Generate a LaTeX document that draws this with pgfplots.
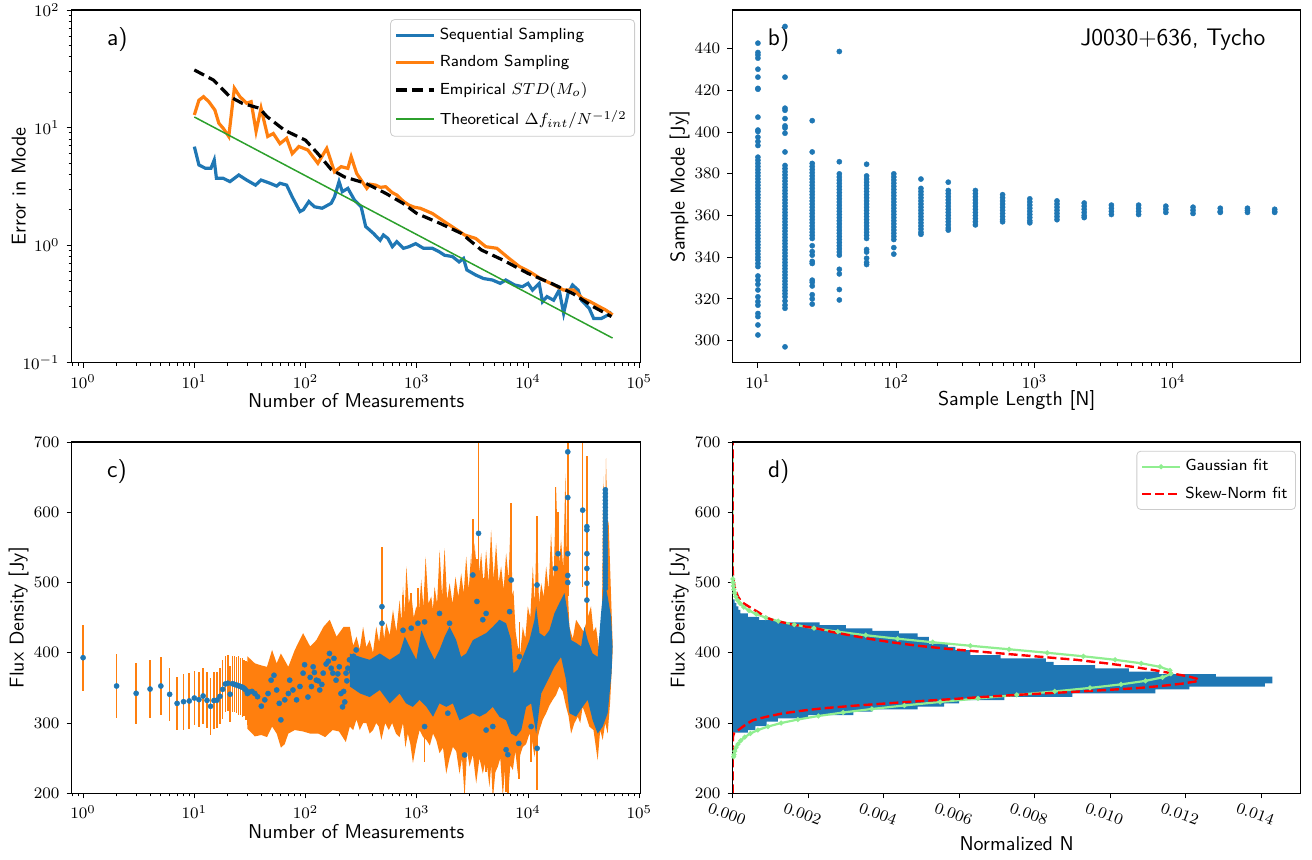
\documentclass[border=0pt]{standalone}
\usepackage{fontspec}
\usepackage{pgfplots}
\pgfplotsset{compat=1.18}

\definecolor{cBlue}{RGB}{31,119,180}
\definecolor{cOrange}{RGB}{255,127,14}
\definecolor{cGreen}{RGB}{44,160,44}
\definecolor{cLight}{RGB}{144,238,144}

\tikzset{tag/.style={font=\sffamily\fontsize{12}{14}\selectfont, anchor=base west}}
\pgfplotsset{
  panel/.style={
    scale only axis, width=284.5pt, axis on top,
    tick pos=left, tick align=outside,
    major tick length=2.6pt, minor tick length=1.5pt,
    every tick/.style={black, line width=0.45pt},
    axis line style={line width=0.55pt},
    tick label style={font=\fontsize{8.5}{10}\selectfont},
    label style={font=\sffamily\fontsize{10}{12}\selectfont},
    ylabel style={at={([xshift=-26.5pt]rel axis cs:0,0.5)}, anchor=center},
    xlabel style={at={([yshift=-19pt]rel axis cs:0.5,0)}, anchor=center},
    legend cell align=left,
    legend style={font=\sffamily\fontsize{8}{9.5}\selectfont, draw=black!20,
      rounded corners=2pt, fill=white, fill opacity=0.8, text opacity=1,
      draw opacity=1, anchor=north east, inner xsep=2pt, inner ysep=2.2pt,
      row sep=2.4pt},
    legend image code/.code={\draw[mark repeat=2,mark phase=2,##1]
      plot coordinates {(0pt,0pt) (9.5pt,0pt) (19pt,0pt)};},
  },
  dots/.style={only marks, mark=*, mark size=1.3pt,
    mark options={fill=cBlue, draw=cBlue, line width=0.2pt}},
  ebar/.style={only marks, mark=*, mark size=0pt,
    mark options={draw=none, fill=none}, forget plot,
    error bars/.cd, y dir=both, y explicit, error mark=none,
    error bar style={draw=cOrange, line width=0.75pt, solid}},
}

\begin{document}
\begin{tikzpicture}
\path[use as bounding box] (0,0) rectangle (656pt,-430pt);

% ---------------- a) error in mode
\begin{axis}[panel, at={(35.85pt,-5pt)}, anchor=north west, height=176.35pt,
  xmode=log, ymode=log, xmin=0.79, xmax=1.03e5, ymin=0.1, ymax=100,
  xlabel={Number of Measurements}, ylabel={Error in Mode},
  legend style={at={(0.99,0.974)}}]
\addplot[cBlue, line width=1.6pt] coordinates {(10,6.88) (11,4.81) (12.6,4.5) (14.1,4.5) (15.1,5.3) (15.8,3.7) (18.2,3.7) (20.9,3.47) (25.1,3.95) (29.5,3.58) (35.5,3.24) (39.8,3.58) (47.9,3.36) (55,3.18) (58.9,3.36) (67.6,3.24) (75.9,2.57) (89.1,1.93) (95.5,2.0) (107,2.35) (120,2.12) (141,2.06) (170,2.27) (182,2.57) (200,3.47) (214,2.85) (240,3.04) (275,2.42) (316,2.12) (347,1.44) (407,1.26) (468,1.10) (501,1.22) (550,1.14) (603,0.97) (661,1.07) (759,0.94) (851,0.97) (977,1.03) (1148,0.94) (1380,0.94) (1585,0.88) (1778,0.82) (2089,0.80) (2399,0.72) (2630,0.77) (2818,0.615) (3388,0.557) (3981,0.52) (4786,0.505) (5623,0.473) (6310,0.505) (7586,0.458) (8913,0.443) (10000,0.473) (10965,0.415) (12589,0.473) (13490,0.33) (14791,0.365) (16982,0.34) (19055,0.415) (20893,0.263) (22909,0.389) (25119,0.458) (28184,0.415) (30200,0.34) (35481,0.29) (38905,0.238) (45709,0.238) (52481,0.255) (56234,0.27)};
\addlegendentry{Sequential Sampling}
\addplot[cOrange, line width=1.6pt] coordinates {(10,12.8) (11,17.1) (12.1,18.3) (13.5,16.6) (15.3,14.1) (16.6,10.9) (18.2,9.85) (20.4,8.4) (22.9,21.6) (25.7,18.3) (29.5,16.1) (32.4,16.6) (35.9,9.3) (39.8,14.6) (45.7,8.4) (51.3,8.9) (58.9,7.3) (67.6,8.1) (75.9,6.0) (87.1,6.9) (104.7,6.45) (129,4.97) (155,6.65) (182,4.2) (209,4.65) (240,4.5) (257,5.65) (288,4.07) (316,3.58) (355,3.04) (380,3.3) (427,3.24) (470,3.1) (525,3.14) (600,2.8) (661,2.67) (760,2.35) (851,2.19) (950,2.1) (1072,2.06) (1380,1.86) (1778,1.58) (2291,1.35) (2692,1.22) (3388,1.14) (4169,0.97) (5248,0.94) (6761,0.77) (8318,0.66) (10471,0.59) (12882,0.52) (16982,0.46) (20893,0.415) (25704,0.415) (30903,0.353) (36308,0.33) (43652,0.30) (50119,0.28) (57544,0.255)};
\addlegendentry{Random Sampling}
\addplot[black, line width=1.6pt, dash pattern=on 5.5pt off 2.6pt] coordinates {(10,30.9) (14.8,25.4) (20.9,18.3) (26.9,16.1) (38.5,14.6) (45,12.4) (64.6,9.5) (100,7.8) (129,6.0) (170,4.4) (224,3.8) (347,3.36) (525,2.76) (750,2.27) (1000,1.86) (1622,1.53) (2512,1.26) (3802,0.91) (5888,0.75) (10000,0.575) (16218,0.473) (25119,0.389) (38459,0.30) (56234,0.247)};
\addlegendentry{Empirical $STD(M_o)$}
\addplot[cGreen, line width=0.75pt] coordinates {(10,12.3) (57544,0.162)};
\addlegendentry{Theoretical $\Delta f_{int}/N^{-1/2}$}
\node[tag] at (rel axis cs:0.05,0.9) {a)};
\end{axis}

% ---------------- b) sample mode vs sample length
\begin{axis}[panel, at={(366.25pt,-5pt)}, anchor=north west, height=176.35pt,
  width=284.2pt, xmode=log, xmin=6.55, xmax=84500, ymin=289.4, ymax=458.6,
  xtick={10,100,1000,10000}, ytick={300,320,...,440},
  xlabel={Sample Length [N]}, ylabel={Sample Mode [Jy]}]
\addplot[dots] coordinates {
(10,442.7) (10,438.2) (10,437) (10,435.5) (10,430.2) (10,426.4) (10,421) (10,420.6) (10,407.2) (10,401) (10,400.3) (10,397.6) (10,395.5) (10,393.6) (10,388) (10,386.5) (10,385) (10,383.5) (10,382) (10,380.5) (10,379) (10,377.5) (10,376) (10,374.5) (10,373) (10,371.5) (10,370) (10,368.5) (10,367) (10,365.5) (10,364) (10,362.5) (10,361) (10,359.5) (10,358) (10,356.5) (10,355) (10,353.5) (10,352) (10,350.5) (10,349) (10,347.5) (10,346) (10,344.5) (10,343) (10,341.5) (10,340) (10,338.7) (10,337) (10,335.5) (10,331) (10,329) (10,327) (10,324.3) (10,321) (10,318.7) (10,317) (10,313) (10,311.5) (10,307.5) (10,302.7)
(15.7,450.7) (15.7,426.4) (15.7,411.5) (15.7,410.5) (15.7,406.5) (15.7,403) (15.7,402) (15.7,399.5) (15.7,390.5) (15.7,384) (15.7,382.5) (15.7,381) (15.7,379.5) (15.7,378) (15.7,376.5) (15.7,375) (15.7,373.5) (15.7,372) (15.7,370.5) (15.7,369) (15.7,367.5) (15.7,366) (15.7,364.5) (15.7,363) (15.7,361.5) (15.7,360) (15.7,358.5) (15.7,357) (15.7,355.5) (15.7,354) (15.7,352.5) (15.7,351) (15.7,349.5) (15.7,348) (15.7,346.5) (15.7,345) (15.7,343.5) (15.7,342) (15.7,340.5) (15.7,339) (15.7,337.5) (15.7,336) (15.7,334.5) (15.7,333) (15.7,331.5) (15.7,330) (15.7,328.5) (15.7,327) (15.7,325.5) (15.7,324) (15.7,322.5) (15.7,321) (15.7,319) (15.7,317) (15.7,315.5) (15.7,297)
(24.7,405.5) (24.7,390.5) (24.7,385) (24.7,383.5) (24.7,382) (24.7,380.5) (24.7,379) (24.7,377.5) (24.7,376) (24.7,374.5) (24.7,373) (24.7,371.5) (24.7,370) (24.7,368.5) (24.7,367) (24.7,365.5) (24.7,364) (24.7,362.5) (24.7,361) (24.7,359.5) (24.7,358) (24.7,356.5) (24.7,355) (24.7,353.5) (24.7,352) (24.7,350.5) (24.7,349) (24.7,345.5) (24.7,342.7) (24.7,341) (24.7,338) (24.7,337) (24.7,329) (24.7,328) (24.7,326.2) (24.7,322) (24.7,320) (24.7,317.5)
(38.8,438.7) (38.8,385.8) (38.8,380) (38.8,378.5) (38.8,377) (38.8,375.5) (38.8,374) (38.8,372.5) (38.8,371) (38.8,369.5) (38.8,368) (38.8,366.5) (38.8,365) (38.8,363.5) (38.8,362) (38.8,360.5) (38.8,359) (38.8,357.5) (38.8,356) (38.8,354.5) (38.8,353) (38.8,351.5) (38.8,350) (38.8,348.5) (38.8,347) (38.8,345.5) (38.8,344) (38.8,342.5) (38.8,341) (38.8,334.2) (38.8,332) (38.8,324.5) (38.8,319.5)
(61.1,384.6) (61.1,379) (61.1,377.5) (61.1,376) (61.1,374.5) (61.1,373) (61.1,371.5) (61.1,370) (61.1,368.5) (61.1,367) (61.1,365.5) (61.1,364) (61.1,362.5) (61.1,361) (61.1,359.5) (61.1,358) (61.1,356.5) (61.1,355) (61.1,353.5) (61.1,352) (61.1,350.5) (61.1,349) (61.1,343.7) (61.1,342.5) (61.1,339.5) (61.1,337.5) (61.1,336.5)
(96.1,380) (96.1,378.5) (96.1,377) (96.1,375.5) (96.1,374) (96.1,372.5) (96.1,371) (96.1,369.5) (96.1,368) (96.1,366.5) (96.1,365) (96.1,363.5) (96.1,362) (96.1,360.5) (96.1,359) (96.1,357.5) (96.1,356) (96.1,354.5) (96.1,353) (96.1,351.5) (96.1,350) (96.1,348.5) (96.1,344.6) (96.1,341.5)
(151,377.5) (151,373) (151,371.5) (151,370) (151,368.5) (151,367) (151,365.5) (151,364) (151,362.5) (151,361) (151,359.5) (151,358) (151,356.5) (151,355) (151,353.5) (151,352) (151,351)
(238,376) (238,372) (238,370.5) (238,369) (238,367.5) (238,366) (238,364.5) (238,363) (238,361.5) (238,360) (238,358.5) (238,357) (238,355.5) (238,354) (238,353)
(374,372) (374,370.5) (374,369) (374,367.5) (374,366) (374,364.5) (374,363) (374,361.5) (374,360) (374,358.5) (374,357) (374,355.5)
(588,370) (588,368.5) (588,367) (588,365.5) (588,364) (588,362.5) (588,361) (588,359.5) (588,358) (588,357)
(925,368) (925,366.5) (925,365) (925,363.5) (925,362) (925,360.5) (925,359) (925,357.5) (925,356.5)
(1455,367) (1455,365.5) (1455,364) (1455,362.5) (1455,361) (1455,359.5) (1455,358)
(2289,366) (2289,364.5) (2289,363) (2289,361.5) (2289,360) (2289,359)
(3601,365) (3601,363.5) (3601,362) (3601,360.5)
(5666,365) (5666,363.5) (5666,362) (5666,360.5)
(8913,364.5) (8913,363) (8913,361.5)
(14023,364) (14023,362.5) (14023,361)
(22060,363.5) (22060,362) (22060,361.5)
(34705,363.5) (34705,362.5) (34705,361.5)
(54600,363) (54600,362) (54600,361.5)};
\node[tag] at (rel axis cs:0.05,0.9) {b)};
\node[font=\sffamily\fontsize{12}{14}\selectfont, anchor=base east] at (rel axis cs:0.95,0.9) {J0030+636, Tycho};
\end{axis}

% ---------------- c) flux density per measurement
\begin{axis}[panel, at={(35.85pt,-221pt)}, anchor=north west, height=175.65pt,
  xmode=log, xmin=0.79, xmax=1.03e5, ymin=200, ymax=700,
  ytick={200,300,...,700},
  xlabel={Number of Measurements}, ylabel={Flux Density [Jy]}]
% orange envelope of the error bars
\addplot[fill=cOrange, draw=none, forget plot] coordinates {
(30,395) (35,385) (40,382) (45,380) (50,404) (55,385) (60,399) (70,380) (80,404) (95,428) (110,409) (125,418) (145,437) (165,447) (190,423) (220,437)
(250,437) (268,410) (287,423) (307,405) (329,437) (352,408) (377,418) (404,400) (432,437) (458,415) (486,450) (508,420) (532,442) (570,425) (611,461) (655,430) (701,475) (726,445) (752,494) (778,455) (805,523) (847,470) (891,485) (939,450) (989,466) (1041,455) (1096,504) (1147,465) (1200,537) (1272,470) (1349,480) (1396,462) (1445,494) (1522,470) (1603,546) (1688,480) (1778,549) (1873,475) (1972,499) (2096,470) (2228,508) (2363,480) (2506,513) (2640,485) (2780,537) (2928,490) (3083,542) (3192,495) (3304,556) (3540,500) (3793,542) (3990,495) (4198,546) (4421,500) (4656,575) (4904,505) (5164,556) (5440,500) (5728,523) (6033,490) (6353,542) (6690,505) (7047,613) (7220,480) (7396,489) (7740,430) (8091,409) (8520,400) (8974,437) (9450,420) (9954,466) (10480,450) (11041,523) (11510,470) (11995,594) (12550,470) (13122,499) (13820,480) (14555,523) (15310,490) (16106,570) (16960,500) (17865,636) (18810,520) (19815,561) (20730,520) (21677,655) (22590,500) (23550,437) (25240,420) (27040,447) (31550,430) (36810,466) (38770,430) (40830,437) (43000,410) (45290,399) (46400,480) (47530,651) (48860,560) (50230,677) (51640,590) (53090,584) (55250,500) (57500,418)
(57500,400) (54700,330) (51990,285) (49380,300) (46900,276) (44520,290) (42270,247) (38770,290) (35560,295) (33190,310) (30970,323) (29450,300) (28000,309) (26130,300) (24380,285) (23150,310) (21980,323) (20520,345) (19150,352) (17870,340) (16670,333) (15580,325) (14560,314) (13590,305) (12680,290) (12040,275) (11430,252) (10850,275) (10300,285) (9610,270) (8970,266) (8520,255) (8090,228) (7690,260) (7300,233) (6930,240) (6580,190) (6250,240) (5930,195) (5630,250) (5350,238) (5080,230) (4820,190) (4660,240) (4500,209) (4200,250) (3920,228) (3660,250) (3420,214) (3190,255) (2980,238) (2830,260) (2690,195) (2550,250) (2420,228) (2260,260) (2110,266) (1970,250) (1840,228) (1720,265) (1600,257) (1500,275) (1400,285) (1310,268) (1220,276) (1140,280) (1060,290) (990,270) (923,243) (875,270) (830,285) (790,265) (752,300) (700,280) (650,285) (600,300) (560,290) (520,300) (480,276) (455,295) (432,300) (404,290) (377,285) (352,300) (329,300) (307,290) (287,305) (268,290) (250,295)
(230,273) (200,288) (175,290) (150,280) (130,285) (110,285) (95,288) (80,290) (70,285) (65,270) (60,265) (55,285) (50,295) (45,280) (40,283) (35,281) (30,292)} -- cycle;
% individual error bars
\addplot[ebar] coordinates {
(1,393) +- (0,47) (2,352.7) +- (0,45.5) (3,342.3) +- (0,43) (4,348.4) +- (0,41) (5,352.7) +- (0,41.5) (6,340.9) +- (0,38) (7,328) +- (0,38) (8,330.4) +- (0,40) (9,331.4) +- (0,40) (10,335.6) +- (0,39) (11,333.3) +- (0,39) (12,338.5) +- (0,40) (13,332.3) +- (0,40) (14,323.8) +- (0,41) (15,332) +- (0,40) (16,332.6) +- (0,40) (17,338) +- (0,40) (18,348) +- (0,42) (19,355.6) +- (0,40) (20,356.6) +- (0,40) (21,341) +- (0,40) (22,356) +- (0,40) (23,355) +- (0,40) (24,354) +- (0,40) (25,353) +- (0,42) (26,352) +- (0,40) (27,351) +- (0,42) (28,349.5) +- (0,40) (29,347) +- (0,42) (30,342) +- (0,45)
(486,465.6) +- (0,85) (486,442) +- (0,60) (752,432) +- (0,50) (891,435) +- (0,50) (1023,442) +- (0,50) (1175,444) +- (0,50) (1600,456) +- (0,60) (1970,442) +- (0,50) (3190,510.7) +- (0,80) (3470,473) +- (0,60) (3590,570) +- (0,140) (3920,447) +- (0,60) (4200,456) +- (0,60) (7060,503.6) +- (0,110) (6830,458.5) +- (0,60) (8370,394.5) +- (0,50) (12050,496.5) +- (0,98) (17620,520) +- (0,116) (18620,541) +- (0,60) (22760,686) +- (0,100) (22760,621) +- (0,80) (22760,541) +- (0,60) (31000,603) +- (0,110) (33800,579.5) +- (0,100) (33800,541) +- (0,60) (33800,520) +- (0,60) (33800,499) +- (0,60) (2690,254.5) +- (0,60) (4200,290) +- (0,60) (4820,295) +- (0,60) (6350,262) +- (0,60) (6580,255) +- (0,60) (8260,271) +- (0,50) (10660,295) +- (0,50) (12080,264) +- (0,60) (1175,295) +- (0,50) (1900,314) +- (0,50)};
% dense cloud of measurements
\addplot[fill=cBlue, draw=none, forget plot] coordinates {
(250,399) (310,394) (377,390) (465,399) (570,390) (700,399) (780,423) (860,409) (990,390) (1100,432) (1260,409) (1445,390) (1600,404) (1780,423) (1970,437) (2260,418) (2500,394) (2780,399) (3190,418) (3660,423) (4200,428) (4820,437) (5530,447) (6350,442) (7050,418) (7400,371) (8090,376) (8970,394) (10300,418) (11430,447) (11830,466) (12680,428) (14070,423) (15560,432) (17260,456) (19150,471) (21240,485) (22760,456) (24380,418) (27040,414) (30000,409) (32060,437) (34360,418) (38110,399) (42270,394) (45290,456) (48530,503) (52000,480) (55700,452) (57500,409)
(56360,371) (51990,314) (46900,295) (42270,285) (38110,304) (34360,333) (30970,323) (27040,309) (23550,314) (21980,361) (19810,394) (17260,380) (15070,361) (13120,342) (11830,285) (10660,328) (9610,323) (8700,290) (7820,281) (7050,285) (6350,304) (5530,309) (4820,323) (4200,314) (3660,309) (3190,314) (2780,309) (2420,304) (2110,328) (1840,323) (1600,328) (1400,309) (1220,323) (1060,333) (920,323) (800,328) (700,342) (570,328) (465,347) (377,337) (310,342) (250,352)} -- cycle;
\addplot[dots, forget plot] coordinates {
(1,393) (2,352.7) (3,342.3) (4,348.4) (5,352.7) (6,340.9) (7,328) (8,330.4) (9,331.4) (10,335.6) (11,333.3) (12,338.5) (13,332.3) (14,323.8) (15,332) (16,332.6) (17,338) (18,348) (19,355.6) (20,356.6) (21,341) (22,356) (23,355) (24,354) (25,353) (26,352) (27,351) (28,349.5) (29,347) (30,342)
(31,344) (33,345) (35,342) (37,337.5) (40,324) (43,333) (46,342) (49,361) (52,368) (55,347) (58,328) (60,304.5) (65,333) (70,342) (72,361) (77,347) (83,333) (89,352) (95,371) (98,383) (105,337) (110,365) (113,352) (117,380) (120,372) (125,361) (130,360) (134,347) (140,355) (144,371) (153,384) (160,388) (164,399) (170,378) (176,371) (180,392) (188,361) (195,370) (201,380) (208,342) (215,323) (220,345) (225,330) (231,371) (235,360) (240,378) (248,390) (260,373) (266,361) (270,395) (280,365) (285,404) (295,380)
(486,465.6) (486,442) (752,432) (891,435) (1023,442) (1175,444) (1600,456) (1970,442) (3190,510.7) (3470,473) (3590,570) (3920,447) (4200,456) (7060,503.6) (6830,458.5) (8370,394.5) (12050,496.5) (17620,520) (18620,541) (22760,686) (22760,621) (22760,541) (22760,510) (22760,500) (31000,603) (33800,579.5) (33800,575) (33800,541) (33800,520) (33800,499) (33800,475) (2690,254.5) (4200,290) (4820,295) (6350,262) (6580,255) (8260,271) (10660,295) (12080,264) (1175,295) (1900,314)
(49550,632) (49550,627) (49550,622) (49550,617) (49550,612) (49550,607) (49550,602) (49550,597) (49550,592) (49550,587) (49550,582) (49550,577) (49550,572) (49550,567) (49550,562) (49550,557) (49550,552) (49550,547) (49550,542) (49550,537) (49550,532) (49550,527) (49550,522) (49550,517) (49550,512) (49550,507) (49550,502) (49550,497) (49550,492)};
\node[tag] at (rel axis cs:0.05,0.9) {c)};
\end{axis}

% ---------------- d) histogram with fits
\begin{axis}[panel, at={(366.35pt,-221pt)}, anchor=north west, height=175.65pt,
  width=284pt, xmin=0, xmax=0.01505, ymin=200, ymax=700,
  xtick={0,0.002,...,0.0141}, ytick={200,300,...,700}, scaled x ticks=false,
  xticklabel style={/pgf/number format/.cd, fixed, fixed zerofill, precision=3,
    /tikz/.cd, rotate=-20, anchor=north, yshift=-2.2pt},
  xlabel style={at={([yshift=-25.3pt]rel axis cs:0.5,0)}},
  xlabel={Normalized N}, ylabel={Flux Density [Jy]},
  legend style={at={(0.9917,0.975)}}]
\addplot[fill=cBlue, draw=none, forget plot] coordinates {
(0,286.3) (0.0004,286.3) (0.0004,290) (0.0006,290) (0.0006,295.7) (0.0009,295.7) (0.0009,301.9) (0.0012,301.9) (0.0012,306.6) (0.0020,306.6) (0.0020,311.4) (0.0032,311.4) (0.0032,316.1) (0.0037,316.1) (0.0037,319.4) (0.0049,319.4) (0.0049,323.2) (0.0056,323.2) (0.0056,327.9) (0.0060,327.9) (0.0060,332.7) (0.0072,332.7) (0.0072,337.4) (0.0090,337.4) (0.0090,342.2) (0.0112,342.2) (0.0112,347.9) (0.0121,347.9) (0.0121,351.7) (0.0141,351.7) (0.0141,356.4) (0.0143,356.4) (0.0143,365.9) (0.0128,365.9) (0.0128,369.7) (0.0113,369.7) (0.0113,373.0) (0.0105,373.0) (0.0105,377.7) (0.0096,377.7) (0.0096,382.5) (0.0085,382.5) (0.0085,387.2) (0.0083,387.2) (0.0083,392.0) (0.0071,392.0) (0.0071,396.7) (0.0063,396.7) (0.0063,403.8) (0.0059,403.8) (0.0059,408.5) (0.0057,408.5) (0.0057,413) (0.0052,413) (0.0052,422.7) (0.0049,422.7) (0.0049,427.5) (0.0044,427.5) (0.0044,431.3) (0.0037,431.3) (0.0037,434.6) (0.0030,434.6) (0.0030,439.3) (0.0023,439.3) (0.0023,443.1) (0.0012,443.1) (0.0012,446.4) (0.0007,446.4) (0.0007,451) (0.0004,451) (0.0004,456) (0.0002,456) (0.0002,461) (0.00015,461) (0.00015,466) (0.0001,466) (0.0001,471) (0.00005,471) (0.00005,476) (0,476)} -- cycle;
% Gaussian tail that runs along the axis, drawn thin
\addplot[cLight, line width=0.8pt, forget plot] coordinates {(0.000006,505) (0,515) (0,686)};
\addplot[cLight, line width=1.1pt, mark=*, mark size=0.6pt] coordinates {
(0.000026,252) (0.000035,255) (0.000056,260) (0.00009,265) (0.00014,270) (0.000213,275) (0.000318,280) (0.000467,285) (0.000667,290) (0.000936,295) (0.001285,300) (0.001726,305) (0.00227,310) (0.002924,315) (0.003686,320) (0.004549,325) (0.005495,330) (0.0065,335) (0.007526,340) (0.008532,345) (0.009468,350) (0.010286,355) (0.010939,360) (0.01139,365) (0.01161,370) (0.011586,375) (0.011318,380) (0.010824,385) (0.010134,390) (0.009289,395) (0.008334,400) (0.007321,405) (0.006295,410) (0.0053,415) (0.004368,420) (0.003525,425) (0.002784,430) (0.002153,435) (0.00163,440) (0.001207,445) (0.000877,450) (0.000622,455) (0.000433,460) (0.000294,465) (0.000196,470) (0.000128,475) (0.000082,480) (0.000051,485) (0.000031,490) (0.000019,495) (0.000011,500) (0.000006,505)};
\addlegendentry{Gaussian fit}
\addplot[red, line width=1.2pt, dash pattern=on 4.5pt off 2pt] coordinates {
(0,200) (0,250) (0.000005,280) (0.00003,285) (0.0002,292) (0.00035,298) (0.00053,304) (0.0009,309) (0.00135,314) (0.0019,318) (0.0024,321) (0.0033,325) (0.0041,328) (0.0049,331) (0.0058,334) (0.0066,337) (0.0075,340) (0.0089,344) (0.0099,347) (0.0108,350) (0.0114,353) (0.0119,356) (0.01225,359) (0.01235,361) (0.0123,363) (0.0121,366) (0.0117,370) (0.0112,375) (0.0106,380) (0.0099,385) (0.0091,390) (0.0080,395) (0.0069,400) (0.0058,405) (0.0049,410) (0.0042,415) (0.0036,420) (0.0031,425) (0.0026,430) (0.0022,435) (0.0016,440) (0.0011,446) (0.0009,450) (0.0007,457) (0.00045,465) (0.0003,470) (0.0002,475) (0.00014,480) (0.00007,490) (0.00003,500) (0.00001,510) (0,520) (0,700)};
\addlegendentry{Skew-Norm fit}
\node[tag] at (rel axis cs:0.05,0.9) {d)};
\end{axis}
\end{tikzpicture}
\end{document}
